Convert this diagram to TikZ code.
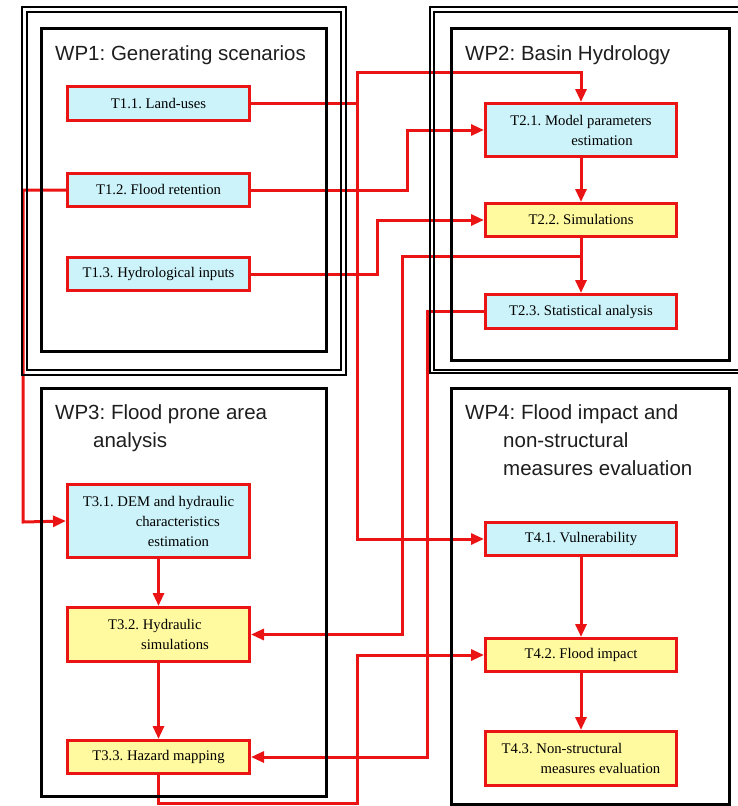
\documentclass[tikz,border=0pt]{standalone}
\usepackage{fontspec}
\setmainfont{Liberation Serif}
\newfontfamily\titlefont{Liberation Sans}
\usetikzlibrary{arrows.meta}
\definecolor{lineRed}{RGB}{235,20,20}
\definecolor{taskCyan}{RGB}{204,243,250}
\definecolor{taskYellow}{RGB}{255,250,160}
\definecolor{titleGray}{RGB}{30,30,30}
\pgfdeclarelayer{bg}
\pgfdeclarelayer{mid}
\pgfsetlayers{bg,mid,main}
\frenchspacing
\begin{document}
\begin{tikzpicture}[x=1pt,y=-1pt,
  task/.style={draw=lineRed, line width=3pt, inner sep=0pt, align=left,
    font=\frenchspacing\fontsize{14.7}{20}\selectfont},
  wpl/.style={task, minimum width=182pt},
  wpr/.style={task, minimum width=191pt},
  cyanbox/.style={fill=taskCyan},
  yellowbox/.style={fill=taskYellow},
  wptitle/.style={anchor=base west, inner sep=0pt, align=left, text=titleGray,
    font=\frenchspacing\titlefont\fontsize{20.5}{28}\selectfont},
  conn/.style={draw=lineRed, line width=3pt},
  arr/.style={conn, -{Triangle[length=13pt,width=11pt]}},
  outerframe/.style={draw=black, line width=2pt},
  innerframe/.style={draw=black, line width=3pt}
]
\useasboundingbox (0,0) rectangle (738,806);
\clip (0,0) rectangle (738,806);

% ---------- tasks ----------
\node[wpl, cyanbox, minimum height=34pt] (T11) at (158.5,103.5) {T1.1. Land-uses};
\node[wpl, cyanbox, minimum height=33pt] (T12) at (158.5,190) {T1.2. Flood retention};
\node[wpl, cyanbox, minimum height=33pt] (T13) at (158.5,274) {T1.3. Hydrological inputs};

\node[wpr, cyanbox, minimum height=53pt] (T21) at (581,130) {T2.1. Model parameters\\\hspace*{61pt}estimation};
\node[wpr, yellowbox, minimum height=33pt] (T22) at (581,220) {T2.2. Simulations};
\node[wpr, cyanbox, minimum height=34pt] (T23) at (581,311.5) {T2.3. Statistical analysis};

\node[wpl, cyanbox, minimum height=73pt] (T31) at (158.5,521) {T3.1. DEM and hydraulic\\\hspace*{53pt}characteristics\\\hspace*{65pt}estimation};
\node[wpl, yellowbox, minimum height=54pt] (T32) at (158.5,634.5) {T3.2. Hydraulic\\\hspace*{33pt}simulations};
\node[wpl, yellowbox, minimum height=33pt] (T33) at (158.5,757) {T3.3. Hazard mapping};

\node[wpr, cyanbox, minimum height=33pt] (T41) at (581,539) {T4.1. Vulnerability};
\node[wpr, yellowbox, minimum height=33pt] (T42) at (581,655) {T4.2. Flood impact};
\node[wpr, yellowbox, minimum height=54pt] (T43) at (581,758.5) {T4.3. Non-structural\\\hspace*{39pt}measures evaluation};

% ---------- titles (base = last line's baseline) ----------
\node[wptitle] (WP1) at (55,60) {WP1: Generating scenarios};
\node[wptitle] (WP2) at (465,60) {WP2: Basin Hydrology};
\node[wptitle] (WP3) at (55,447) {WP3: Flood prone area\\\hspace*{38pt}analysis};
\node[wptitle] (WP4) at (465,475) {WP4: Flood impact and\\\hspace*{38pt}non-structural\\\hspace*{38pt}measures evaluation};

% ---------- frames ----------
\begin{pgfonlayer}{mid}
  \draw[outerframe] (22,7) rectangle (346,375);
  \draw[outerframe] (27,12) rectangle (341,370);
  \draw[innerframe] (41,28) rectangle (326,351);
  \draw[outerframe] (430,7) rectangle (760,373);
  \draw[outerframe] (434,12) rectangle (755,370);
  \draw[innerframe] (451,28) rectangle (729,360);
  \draw[innerframe] (41,388) rectangle (326,796);
  \draw[innerframe] (451,388) rectangle (729,804);
\end{pgfonlayer}

% ---------- connectors ----------
\begin{pgfonlayer}{bg}
  \coordinate (b1) at (357,72);
  \coordinate (b2) at (407,130);
  \coordinate (b3) at (377,220);
  \coordinate (b4) at (23,522);
  \coordinate (b5) at (402,256);
  \coordinate (b6) at (427,757);
  \coordinate (b7) at (357,803);

  \draw[arr] (T11.east) -| (b1) -| (T21.north);
  \draw[arr] (b1) |- (T41.west);
  \draw[arr] (T12.east) -| (b2) -- (T21.west);
  \draw[arr] (T12.west) -| (b4) -- (T31.west);
  \draw[arr] (T13.east) -| (b3) -- (T22.west);

  \draw[arr] (T21.south) -- (T22.north);
  \draw[arr] (T22.south) -- (T23.north);
  \draw[arr] (T22.south |- b5) -- (b5) |- (T32.east);
  \draw[arr] (T23.west) -| (b6) -- (T33.east);

  \draw[arr] (T31.south) -- (T32.north);
  \draw[arr] (T32.south) -- (T33.north);
  \draw[arr] (T33.south) |- (b7) |- (T42.west);

  \draw[arr] (T41.south) -- (T42.north);
  \draw[arr] (T42.south) -- (T43.north);
\end{pgfonlayer}
\end{tikzpicture}
\end{document}
